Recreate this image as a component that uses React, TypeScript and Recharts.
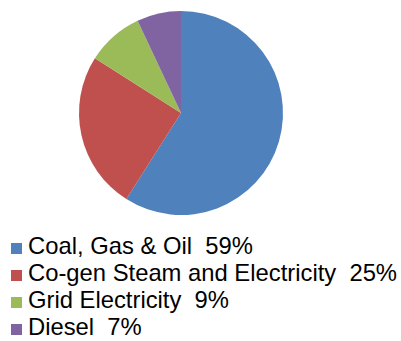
import React from "react";
import { PieChart, Pie, Cell } from "recharts";

const categories = ["Coal, Gas & Oil", "Co-gen Steam and Electricity", "Grid Electricity", "Diesel"];
const values = [59, 25, 9, 7];
const colors = ["#4F81BD", "#C0504D", "#9BBB59", "#8064A2"];

const data = categories.map((name, i) => ({ name, value: values[i] }));

export default function App() {
  return (
    <div style={{ position: "absolute", left: 0, top: 0, width: 401, height: 341, background: "#fff" }}>
      <PieChart width={401} height={341} margin={{ top: 0, right: 0, bottom: 0, left: 0 }}>
        <Pie
          data={data}
          dataKey="value"
          nameKey="name"
          cx={181}
          cy={113}
          outerRadius={102}
          startAngle={90}
          endAngle={-270}
          stroke="none"
          isAnimationActive={false}
        >
          {data.map((d, i) => (
            <Cell key={d.name} fill={colors[i]} />
          ))}
        </Pie>
      </PieChart>
      <div
        style={{
          position: "absolute",
          left: 11,
          top: 229,
          fontFamily: "'Liberation Sans', Arial, sans-serif",
          fontSize: 23.8,
          color: "#000",
        }}
      >
        {data.map((d, i) => (
          <div key={d.name} style={{ position: "relative", height: 27, whiteSpace: "pre" }}>
            <span
              style={{ position: "absolute", left: 0, top: 13.5, width: 11, height: 11, background: colors[i] }}
            />
            <span style={{ position: "absolute", left: 17, top: 3, lineHeight: "27px" }}>{`${d.name}  ${d.value}%`}</span>
          </div>
        ))}
      </div>
    </div>
  );
}
